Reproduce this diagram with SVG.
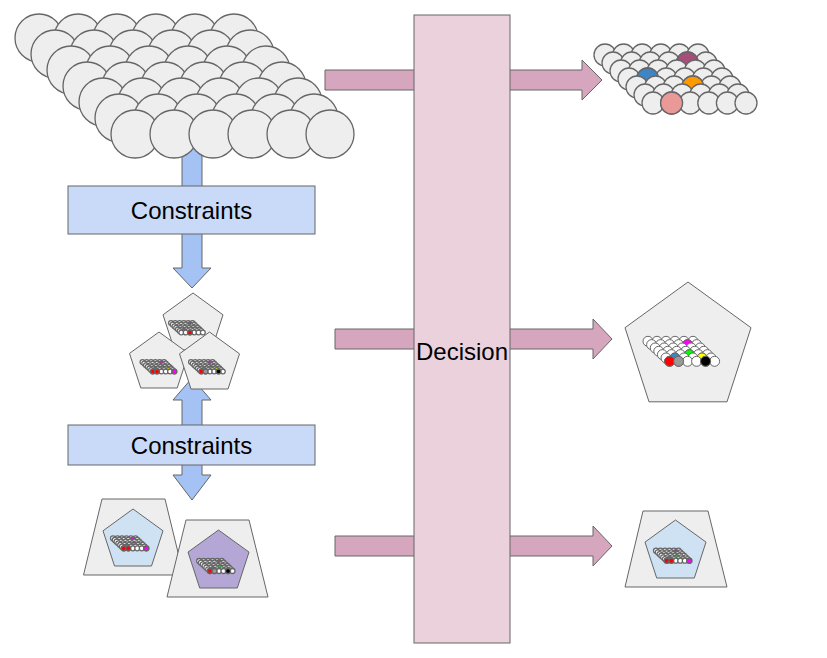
<svg xmlns="http://www.w3.org/2000/svg" xmlns:xlink="http://www.w3.org/1999/xlink" width="827" height="658" viewBox="0 0 827 658">
<style>
.bg{fill:#eeeeee;stroke:#666666;stroke-width:1.3}
.mc{stroke:#666666;vector-effect:non-scaling-stroke}
.w{fill:#ffffff}
.box{fill:#c9daf8;stroke:#666666;stroke-width:1}
.dec{fill:#ead1dc;stroke:#666666;stroke-width:1}
.pa{fill:#d5a6bd;stroke:#666666;stroke-width:1}
.ba{fill:#a4c2f4;stroke:#666666;stroke-width:1}
.sh{fill:#eeeeee;stroke:#666666;stroke-width:1}
.lbl{font-family:"Liberation Sans",Arial,sans-serif;font-size:24px;fill:#000000;text-anchor:middle}
</style>
<defs>
<g id="bigrow">
<circle class="bg" cx="0" cy="0" r="24"/><circle class="bg" cx="39" cy="0" r="24"/><circle class="bg" cx="78" cy="0" r="24"/><circle class="bg" cx="117" cy="0" r="24"/><circle class="bg" cx="156" cy="0" r="24"/><circle class="bg" cx="195" cy="0" r="24"/>
</g>
<g id="midrow">
<circle class="bg" cx="0" cy="0" r="11"/><circle class="bg" cx="18.6" cy="0" r="11"/><circle class="bg" cx="37.2" cy="0" r="11"/><circle class="bg" cx="55.8" cy="0" r="11"/><circle class="bg" cx="74.4" cy="0" r="11"/><circle class="bg" cx="93" cy="0" r="11"/>
</g>
<g id="row">
<circle class="mc w" cx="0" cy="0" r="5"/><circle class="mc w" cx="9" cy="0" r="5"/><circle class="mc w" cx="18" cy="0" r="5"/><circle class="mc w" cx="27" cy="0" r="5"/><circle class="mc w" cx="36" cy="0" r="5"/><circle class="mc w" cx="45" cy="0" r="5"/>
</g>
<g id="gA">
<use xlink:href="#row"/>
<use xlink:href="#row" x="3.6" y="3.33"/>
<circle class="mc" cx="39.6" cy="3.33" r="5" fill="#ff00ff"/>
<use xlink:href="#row" x="7.2" y="6.67"/>
<use xlink:href="#row" x="10.8" y="10"/>
<use xlink:href="#row" x="14.4" y="13.33"/>
<use xlink:href="#row" x="18" y="16.67"/>
<circle class="mc" cx="27" cy="16.67" r="5" fill="#3d85c6"/>
<use xlink:href="#row" x="21.6" y="20"/>
<circle class="mc" cx="39.6" cy="20" r="5" fill="#ff0000"/>
</g>
<g id="gB">
<use xlink:href="#row"/>
<use xlink:href="#row" x="3.6" y="3.33"/>
<circle class="mc" cx="39.6" cy="3.33" r="5" fill="#ff00ff"/>
<use xlink:href="#row" x="7.2" y="6.67"/>
<use xlink:href="#row" x="10.8" y="10"/>
<use xlink:href="#row" x="14.4" y="13.33"/>
<circle class="mc" cx="41.4" cy="13.33" r="5" fill="#00ff00"/>
<use xlink:href="#row" x="18" y="16.67"/>
<circle class="mc" cx="27" cy="16.67" r="5" fill="#3d85c6"/>
<circle class="mc" cx="54" cy="16.67" r="5" fill="#ffff00"/>
<use xlink:href="#row" x="21.6" y="20"/>
<circle class="mc" cx="21.6" cy="20" r="5" fill="#ff0000"/>
<circle class="mc" cx="30.6" cy="20" r="5" fill="#ff0000"/>
<circle class="mc" cx="66.6" cy="20" r="5" fill="#ff00ff"/>
</g>
<g id="gC">
<use xlink:href="#row"/>
<use xlink:href="#row" x="3.6" y="3.33"/>
<circle class="mc" cx="39.6" cy="3.33" r="5" fill="#ff00ff"/>
<use xlink:href="#row" x="7.2" y="6.67"/>
<use xlink:href="#row" x="10.8" y="10"/>
<use xlink:href="#row" x="14.4" y="13.33"/>
<circle class="mc" cx="41.4" cy="13.33" r="5" fill="#00ff00"/>
<use xlink:href="#row" x="18" y="16.67"/>
<circle class="mc" cx="27" cy="16.67" r="5" fill="#3d85c6"/>
<circle class="mc" cx="54" cy="16.67" r="5" fill="#ffff00"/>
<use xlink:href="#row" x="21.6" y="20"/>
<circle class="mc" cx="21.6" cy="20" r="5" fill="#ff0000"/>
<circle class="mc" cx="30.6" cy="20" r="5" fill="#999999"/>
<circle class="mc" cx="57.6" cy="20" r="5" fill="#000000"/>
</g>
</defs>

<g id="connectors">
<polygon class="pa" points="325,70 582,70 582,60 602,80 582,100 582,90 325,90"/>
<polygon class="pa" points="335,329 593,329 593,319 612,339 593,359 593,349 335,349"/>
<polygon class="pa" points="335,536 593,536 593,526 612,546 593,566 593,556 335,556"/>
<polygon class="ba" points="182,140 202,140 202,268 211,268 192,288 173,268 182,268"/>
<polygon class="ba" points="192,378 211,400 202,400 202,475 211,475 192,500 173,475 182,475 182,400 173,400"/>
</g>

<g id="decision">
<rect class="dec" x="414" y="15" width="96" height="628"/>
<text class="lbl" x="462" y="360">Decision</text>
</g>

<g id="big-grid">
<use xlink:href="#bigrow" x="39" y="38"/>
<use xlink:href="#bigrow" x="55" y="54"/>
<use xlink:href="#bigrow" x="71" y="70"/>
<use xlink:href="#bigrow" x="87" y="86"/>
<use xlink:href="#bigrow" x="103" y="102"/>
<use xlink:href="#bigrow" x="119" y="118"/>
<use xlink:href="#bigrow" x="135" y="134"/>
</g>

<g id="constraints1">
<rect class="box" x="68" y="186" width="247" height="48"/>
<text class="lbl" x="191.5" y="218.5">Constraints</text>
</g>

<g id="result-grid">
<use xlink:href="#midrow" x="605" y="55"/>
<use xlink:href="#midrow" x="613" y="63"/>
<circle class="bg" cx="687.4" cy="63" r="11" style="fill:#a64d79"/>
<use xlink:href="#midrow" x="621" y="71"/>
<use xlink:href="#midrow" x="629" y="79"/>
<circle class="bg" cx="647.6" cy="79" r="11" style="fill:#3d85c6"/>
<use xlink:href="#midrow" x="637" y="87"/>
<circle class="bg" cx="692.8" cy="87" r="11" style="fill:#ff9900"/>
<use xlink:href="#midrow" x="645" y="95"/>
<use xlink:href="#midrow" x="653" y="103"/>
<circle class="bg" cx="671.6" cy="103" r="11" style="fill:#ea9999"/>
</g>

<g id="pentagon-top">
<polygon class="sh" points="193,293 223,314.8 211.5,350 174.5,350 163,314.8"/>
<use xlink:href="#gA" stroke-width="1.3" transform="translate(171,323) scale(0.478)"/>
</g>
<g id="pentagon-left">
<polygon class="sh" points="159,332 188.5,353.4 177.2,388 140.8,388 129.5,353.4"/>
<use xlink:href="#gB" stroke-width="1.3" transform="translate(142.5,362) scale(0.478)"/>
</g>
<g id="pentagon-right">
<polygon class="sh" points="209.5,332 239.5,353.8 228,389 191,389 179.5,353.8"/>
<use xlink:href="#gC" stroke-width="1.3" transform="translate(191,362) scale(0.478)"/>
</g>

<g id="constraints2">
<rect class="box" x="68" y="425" width="247" height="40"/>
<text class="lbl" x="191.5" y="453.5">Constraints</text>
</g>

<g id="result-pentagon">
<polygon class="sh" points="688,282 751,327.7 727,401.8 649,401.8 625,327.7"/>
<use xlink:href="#gC" stroke-width="1" transform="translate(648,341.3)"/>
</g>

<g id="trapezoid-left">
<polygon class="sh" points="102,499 165,499 183.5,575 83.5,575"/>
<polygon points="133,509 163,530.8 151.5,566 114.5,566 103,530.8" fill="#cfe2f3" stroke="#666666" stroke-width="1"/>
<use xlink:href="#gB" stroke-width="1.3" transform="translate(113,538.3) scale(0.5)"/>
</g>
<g id="trapezoid-right">
<polygon class="sh" points="186,520 249,520 268,597 167,597"/>
<polygon points="218.5,530 249,552.1 237.3,588 199.7,588 188,552.1" fill="#b4a7d6" stroke="#666666" stroke-width="1"/>
<use xlink:href="#gC" stroke-width="1.3" transform="translate(199.2,561) scale(0.5)"/>
</g>

<g id="result-trapezoid">
<polygon class="sh" points="643,511 708,511 727,587 625,587"/>
<polygon points="675.5,520 706,542.1 694.3,578 656.7,578 645,542.1" fill="#cfe2f3" stroke="#666666" stroke-width="1"/>
<use xlink:href="#gB" stroke-width="1.3" transform="translate(656,550.7) scale(0.5)"/>
</g>
</svg>
